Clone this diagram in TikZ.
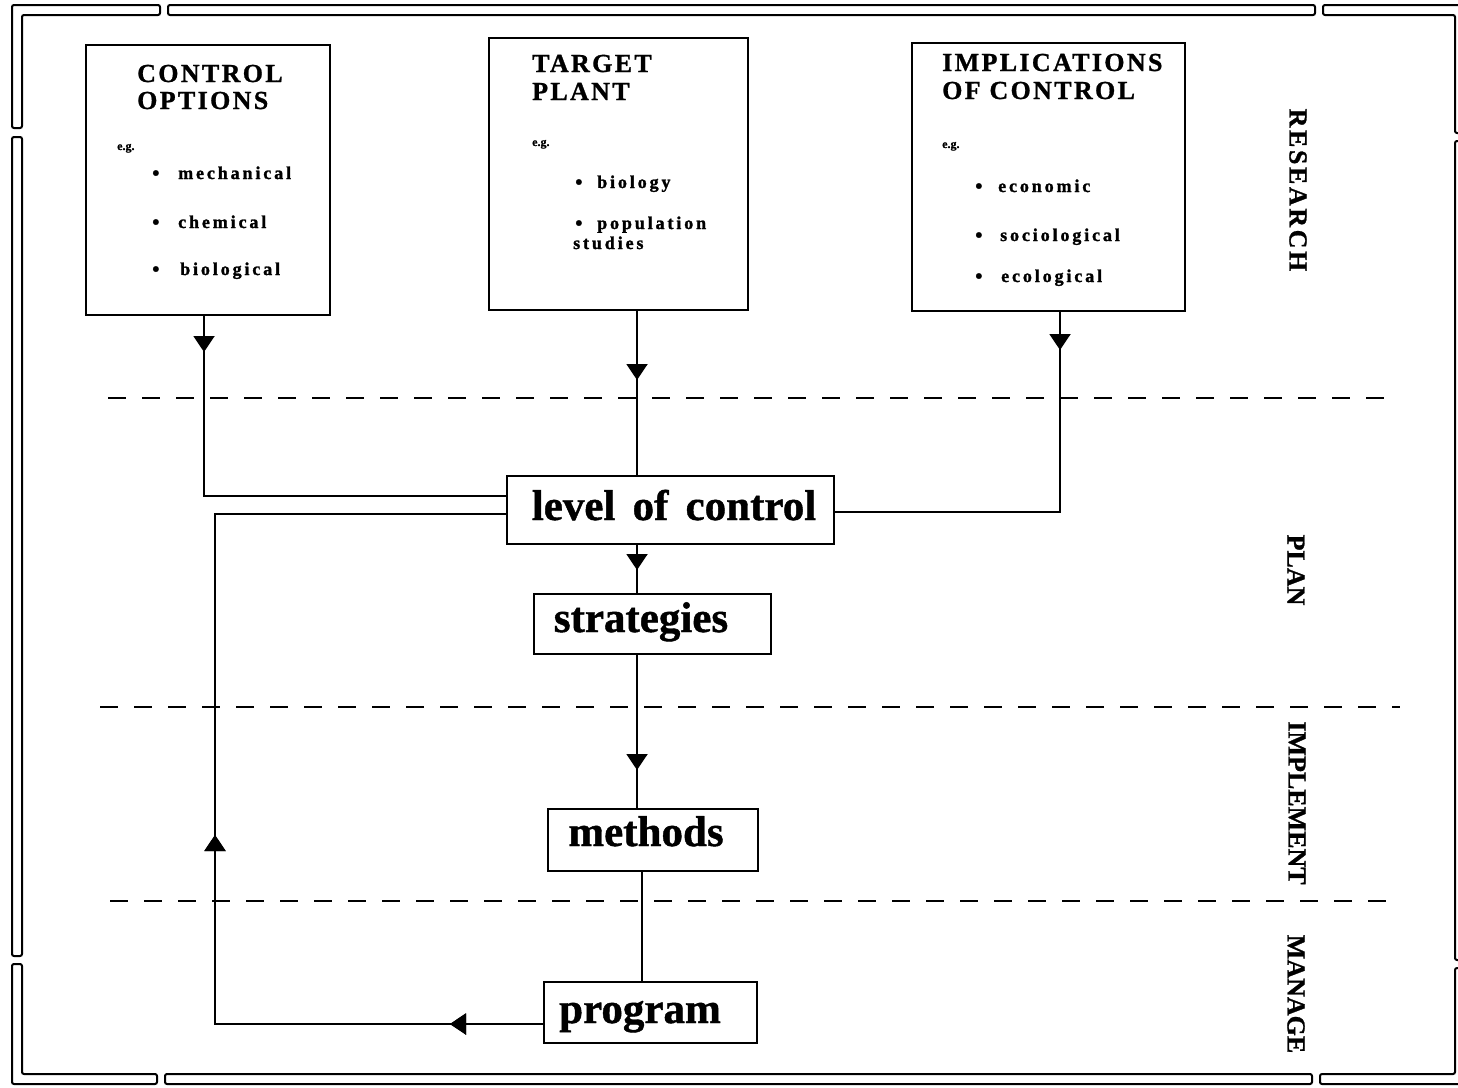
\documentclass[tikz,border=0pt]{standalone}
\usepackage{fontspec}
\setmainfont{Liberation Serif}[BoldFeatures={FakeBold=1}]
\newfontfamily\spacedfont{Liberation Serif}[LetterSpace=16, BoldFeatures={FakeBold=1.5}]
\newfontfamily\titlefont{Liberation Serif}[LetterSpace=9, BoldFeatures={FakeBold=1}]
\newfontfamily\researchfont{Liberation Serif}[LetterSpace=10, BoldFeatures={FakeBold=1}]
\usetikzlibrary{arrows.meta,decorations.markings}

\tikzset{
  boxn/.style={draw, line width=2pt, inner sep=0pt, outer sep=0pt},
  conn/.style={line width=2pt},
  dashline/.style={line width=1.6pt, dash pattern=on 18pt off 16pt},
  framebar/.style={line width=2pt, rounded corners=2pt},
  arrowat/.style={postaction={decorate}, decoration={markings, mark=at position #1 with {\arrow{Triangle[length=16pt,width=21pt]}}}},
  titletxt/.style={anchor=base west, inner sep=0pt, font=\fontsize{26}{28}\selectfont\titlefont\bfseries},
  itemtxt/.style={anchor=base west, inner sep=0pt, font=\fontsize{18}{20}\selectfont\spacedfont\bfseries},
  bullettxt/.style={anchor=base west, inner sep=0pt, font=\fontsize{21}{22}\selectfont\bfseries},
  egtxt/.style={anchor=base west, inner sep=0pt, font=\fontsize{12}{14}\selectfont\bfseries},
  bigtxt/.style={anchor=base, inner sep=0pt, font=\fontsize{43}{46}\selectfont\bfseries},
  sidetxt/.style={rotate=-90, inner sep=0pt, font=\fontsize{26}{28}\selectfont\bfseries},
}

\begin{document}
\begin{tikzpicture}[x=1pt,y=-1pt]
\useasboundingbox (0,0) rectangle (1458,1087);

% frame
\begin{scope}
\clip (0,0) rectangle (1458,1087);
\draw[framebar] (12,128) -- (12,5) -- (160,5) -- (160,15) -- (22,15) -- (22,128) -- cycle;
\draw[framebar] (168,5) rectangle (1315,15);
\draw[framebar] (1323,15) -- (1323,5) -- (1465,5) -- (1465,133) -- (1455,133) -- (1455,15) -- cycle;
\draw[framebar] (1455,141) rectangle (1465,960);
\draw[framebar] (1455,968) -- (1465,968) -- (1465,1084) -- (1320,1084) -- (1320,1074) -- (1455,1074) -- cycle;
\draw[framebar] (165,1074) rectangle (1312,1084);
\draw[framebar] (12,964) -- (22,964) -- (22,1074) -- (157,1074) -- (157,1084) -- (12,1084) -- cycle;
\draw[framebar] (12,137) rectangle (22,956);
\end{scope}

% boxes
\node[boxn, minimum width=244pt, minimum height=270pt] (b1) at (208,180) {};
\node[boxn, minimum width=259pt, minimum height=272pt] (b2) at (618.5,174) {};
\node[boxn, minimum width=273pt, minimum height=268pt] (b3) at (1048.5,177) {};
\node[boxn, minimum width=327pt, minimum height=68pt] (lvl) at (670.5,510) {};
\node[boxn, minimum width=237pt, minimum height=60pt] (strat) at (652.5,624) {};
\node[boxn, minimum width=210pt, minimum height=62pt] (meth) at (653,840) {};
\node[boxn, minimum width=213pt, minimum height=61pt] (prog) at (650.5,1012.5) {};

% box 1 text
\node[titletxt] (t1a) at (137,82) {CONTROL};
\node[titletxt] (t1b) at (137,109) {OPTIONS};
\node[egtxt] (e1) at (117,150) {e.g.};
\node[bullettxt] (k1a) at (152,180) {\textbullet};
\node[itemtxt] (i1a) at (178,179) {mechanical};
\node[bullettxt] (k1b) at (152,229) {\textbullet};
\node[itemtxt] (i1b) at (178,228) {chemical};
\node[bullettxt] (k1c) at (152,276) {\textbullet};
\node[itemtxt] (i1c) at (180,275) {biological};

% box 2 text
\node[titletxt] (t2a) at (532,72) {TARGET};
\node[titletxt] (t2b) at (532,100) {PLANT};
\node[egtxt] (e2) at (532,146) {e.g.};
\node[bullettxt] (k2a) at (575,189) {\textbullet};
\node[itemtxt] (i2a) at (597,188) {biology};
\node[bullettxt] (k2b) at (575,230) {\textbullet};
\node[itemtxt] (i2b) at (597,229) {population};
\node[itemtxt] (i2c) at (573,249) {studies};

% box 3 text
\node[titletxt] (t3a) at (942,71) {IMPLICATIONS};
\node[titletxt] (t3b) at (942,99) {OF CONTROL};
\node[egtxt] (e3) at (942,148) {e.g.};
\node[bullettxt] (k3a) at (975,193) {\textbullet};
\node[itemtxt] (i3a) at (998,192) {economic};
\node[bullettxt] (k3b) at (975,242) {\textbullet};
\node[itemtxt] (i3b) at (1000,241) {sociological};
\node[bullettxt] (k3c) at (975,283) {\textbullet};
\node[itemtxt] (i3c) at (1001,282) {ecological};

% big box texts
\node[bigtxt] (lt) at (674,520) {level\hspace{0.15em} of\hspace{0.15em} control};
\node[bigtxt] (st) at (641,632) {strategies};
\node[bigtxt] (mt) at (646,846) {methods};
\node[bigtxt] (pt) at (640,1023) {program};

% side labels
\node[sidetxt] (sr) at (1298,190) {\researchfont RESEARCH};
\node[sidetxt] (sp) at (1296,570) {PLAN};
\node[sidetxt] (si) at (1297,803) {IMPLEMENT};
\node[sidetxt] (sm) at (1296,994) {MANAGE};

% dashed lines
\coordinate (d1a) at (108,398); \coordinate (d1b) at (1390,398);
\coordinate (d2a) at (100,707); \coordinate (d2b) at (1400,707);
\coordinate (d3a) at (110,901); \coordinate (d3b) at (1390,901);
\draw[dashline] (d1a) -- (d1b);
\draw[dashline] (d2a) -- (d2b);
\draw[dashline] (d3a) -- (d3b);

% connector coordinates
\coordinate (xl) at (204,0);
\coordinate (xa) at (637,0);
\coordinate (xb) at (642,0);
\coordinate (xc) at (1060,0);
\coordinate (j1) at (204,496);
\coordinate (j3) at (1060,512);
\coordinate (fb1) at (215,1024);
\coordinate (fb2) at (215,514);

% connectors
\draw[conn, arrowat=37pt] (b1.south -| xl) -- (j1) -- (lvl.west |- j1);
\draw[conn, arrowat=70pt] (b2.south -| xa) -- (lvl.north -| xa);
\draw[conn, arrowat=39pt] (b3.south -| xc) -- (j3) -- (lvl.east |- j3);
\draw[conn, arrowat=26pt] (lvl.south -| xa) -- (strat.north -| xa);
\draw[conn, arrowat=116pt] (strat.south -| xa) -- (meth.north -| xa);
\draw[conn] (meth.south -| xb) -- (prog.north -| xb);
\draw[conn, arrowat=94pt, arrowat=518pt] (prog.west |- fb1) -- (fb1) -- (fb2) -- (lvl.west |- fb2);
\end{tikzpicture}
\end{document}
